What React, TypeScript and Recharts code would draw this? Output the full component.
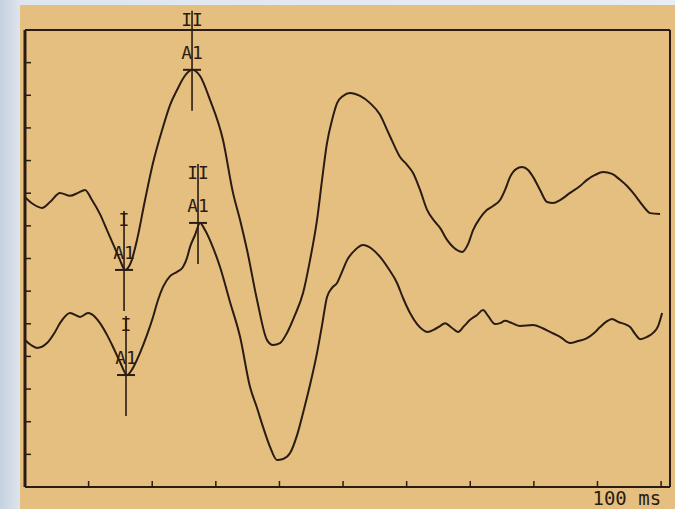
import React from 'react';
import { LineChart, Line, XAxis, YAxis, ReferenceDot, ReferenceLine } from 'recharts';

// time (ms) and amplitude (divisions) of the upper trace
const upperT = [0, 1.26, 2.67, 3.93, 5.5, 7.08, 8.33, 9.43, 10.53, 11.79, 12.89, 13.99, 14.94, 15.72, 16.67, 17.61, 18.87, 20.13, 21.7, 22.8, 23.9, 25.0, 26.26, 27.52, 29.09, 31.13, 32.7, 33.81, 34.91, 36.48, 38.05, 38.99, 40.09, 41.19, 42.45, 43.71, 44.81, 45.91, 46.7, 47.48, 48.27, 49.06, 50.0, 51.1, 52.67, 54.25, 55.82, 56.92, 57.86, 58.96, 60.06, 61.01, 62.11, 63.21, 64.47, 65.25, 66.35, 67.3, 68.71, 69.65, 70.44, 71.54, 72.64, 73.58, 74.69, 75.47, 76.26, 77.2, 78.14, 79.09, 79.87, 80.97, 82.08, 83.02, 84.12, 85.69, 87.26, 88.36, 89.62, 90.88, 92.3, 93.55, 94.65, 95.6, 96.7, 97.8, 98.27, 99.84];
const upperV = [8.88, 8.67, 8.55, 8.73, 9.01, 8.92, 9.01, 9.1, 8.79, 8.36, 7.87, 7.38, 6.95, 6.65, 6.89, 7.57, 8.79, 9.93, 11.03, 11.7, 12.16, 12.56, 12.78, 12.59, 11.86, 10.63, 9.01, 8.18, 7.26, 5.73, 4.5, 4.35, 4.41, 4.72, 5.27, 5.94, 6.95, 8.18, 9.41, 10.54, 11.24, 11.76, 11.98, 12.07, 11.98, 11.76, 11.4, 10.94, 10.54, 10.11, 9.87, 9.62, 9.1, 8.49, 8.12, 7.94, 7.57, 7.35, 7.2, 7.44, 7.87, 8.24, 8.49, 8.61, 8.79, 9.1, 9.5, 9.74, 9.8, 9.71, 9.5, 9.1, 8.73, 8.7, 8.79, 9.01, 9.22, 9.41, 9.56, 9.65, 9.59, 9.41, 9.22, 9.01, 8.73, 8.46, 8.39, 8.36];

// time (ms) and amplitude (divisions) of the lower trace
const lowerT = [0, 0.94, 1.89, 3.46, 4.72, 5.5, 7.08, 8.65, 9.91, 11.01, 11.79, 12.89, 13.84, 14.94, 16.04, 16.98, 18.08, 19.18, 20.13, 20.91, 21.7, 22.8, 23.9, 24.84, 25.47, 25.94, 26.73, 27.52, 28.3, 29.4, 30.66, 32.23, 33.81, 35.38, 36.48, 37.42, 38.52, 39.62, 40.57, 41.67, 42.77, 43.71, 44.81, 45.91, 46.7, 47.48, 48.27, 49.06, 49.84, 50.63, 51.89, 53.14, 54.56, 55.82, 57.08, 58.49, 59.43, 60.53, 61.64, 62.58, 63.21, 64.47, 65.25, 66.04, 67.14, 68.08, 69.03, 69.97, 71.07, 72.01, 72.8, 73.9, 74.69, 75.47, 76.57, 77.83, 79.87, 81.29, 82.55, 84.12, 85.69, 86.95, 88.36, 89.47, 90.41, 91.35, 92.3, 93.24, 94.65, 95.13, 95.91, 96.7, 97.8, 98.74, 99.53, 100.16];
const lowerV = [4.5, 4.35, 4.26, 4.41, 4.75, 5.02, 5.33, 5.21, 5.33, 5.21, 5.02, 4.66, 4.29, 3.83, 3.43, 3.65, 4.11, 4.66, 5.21, 5.73, 6.13, 6.46, 6.59, 6.74, 7.02, 7.35, 7.72, 8.09, 7.87, 7.41, 6.74, 5.67, 4.6, 3.06, 2.42, 1.84, 1.23, 0.83, 0.86, 1.04, 1.59, 2.27, 3.13, 4.11, 4.96, 5.82, 6.1, 6.25, 6.59, 6.95, 7.26, 7.41, 7.29, 7.05, 6.71, 6.25, 5.79, 5.33, 4.99, 4.81, 4.75, 4.84, 4.93, 5.02, 4.87, 4.75, 4.93, 5.12, 5.27, 5.42, 5.24, 4.99, 5.02, 5.09, 5.02, 4.93, 4.96, 4.87, 4.75, 4.6, 4.41, 4.47, 4.56, 4.72, 4.9, 5.06, 5.15, 5.06, 4.96, 4.9, 4.69, 4.53, 4.6, 4.72, 4.93, 5.33];

// peak markers
const markerT = [15.57, 26.26, 15.88, 27.2];
const markerV = [6.65, 12.78, 3.43, 8.09];
const markerWave = ['I', 'II', 'I', 'II'];
const markerName = ['A1', 'A1', 'A1', 'A1'];

const xTicks = [0, 10, 20, 30, 40, 50, 60, 70, 80, 90, 100];
const yTicks = [0, 1, 2, 3, 4, 5, 6, 7, 8, 9, 10, 11, 12, 13, 14];
const xMax = 101.4;
const yMax = 14;
const unitLabel = '100 ms';

const upperData = upperT.map((t, i) => ({ t, v: upperV[i] }));
const lowerData = lowerT.map((t, i) => ({ t, v: lowerV[i] }));

const INK = '#2a1c12';
const TAN = '#e4bf80';
const MONO = '"DejaVu Sans Mono", "Liberation Mono", monospace';

const XTick = (props: any) => {
  const { x, y, payload } = props;
  return (
    <g>
      <line x1={x} x2={x} y1={y} y2={y - 6} stroke={INK} strokeWidth={1.5} />
      {payload.value === 100 ? (
        <text x={x} y={y + 18} textAnchor="end" fontFamily={MONO} fontSize={19} fill={INK}>
          {unitLabel}
        </text>
      ) : null}
    </g>
  );
};

const YTick = (props: any) => {
  const { x, y } = props;
  return <line x1={x} x2={x + 6} y1={y} y2={y} stroke={INK} strokeWidth={1.5} />;
};

const makeMarker = (wave: string, name: string) => (props: any) => {
  const { cx, cy } = props;
  return (
    <g>
      <line x1={cx} x2={cx} y1={cy - 59} y2={cy + 41} stroke={INK} strokeWidth={1.6} />
      <line x1={cx - 9} x2={cx + 9} y1={cy} y2={cy} stroke={INK} strokeWidth={2} />
      <text x={cx} y={cy - 44} textAnchor="middle" fontFamily={MONO} fontSize={18} fill={INK}>
        {wave}
      </text>
      <text x={cx} y={cy - 11} textAnchor="middle" fontFamily={MONO} fontSize={18} fill={INK}>
        {name}
      </text>
    </g>
  );
};

export default function App() {
  return (
    <div
      style={{
        position: 'absolute',
        left: 0,
        top: 0,
        width: 675,
        height: 509,
        background: 'linear-gradient(90deg, #c6d1df 0%, #dde5ee 3%, #e8edf3 100%)',
        overflow: 'hidden',
      }}
    >
      <div style={{ position: 'absolute', left: 20, top: 5, width: 655, height: 504, background: TAN }} />
      <div style={{ position: 'absolute', left: 0, top: 0 }}>
        <LineChart width={675} height={509} margin={{ top: 30, right: 5, bottom: 21, left: 24 }}>
          <XAxis
            type="number"
            dataKey="t"
            domain={[0, xMax]}
            ticks={xTicks}
            interval={0}
            allowDataOverflow
            height={1}
            tickSize={0}
            tickMargin={0}
            tickLine={false}
            axisLine={{ stroke: INK, strokeWidth: 2 }}
            tick={<XTick />}
          />
          <YAxis
            type="number"
            dataKey="v"
            domain={[0, yMax]}
            ticks={yTicks}
            interval={0}
            allowDataOverflow
            width={1}
            tickSize={0}
            tickMargin={0}
            tickLine={false}
            axisLine={{ stroke: INK, strokeWidth: 3 }}
            tick={<YTick />}
          />
          <ReferenceLine y={yMax} stroke={INK} strokeWidth={2} ifOverflow="visible" />
          <ReferenceLine x={xMax} stroke={INK} strokeWidth={2} ifOverflow="visible" />
          <Line
            data={upperData}
            dataKey="v"
            type="monotone"
            stroke={INK}
            strokeWidth={2}
            dot={false}
            isAnimationActive={false}
          />
          <Line
            data={lowerData}
            dataKey="v"
            type="monotone"
            stroke={INK}
            strokeWidth={2}
            dot={false}
            isAnimationActive={false}
          />
          {markerT.map((t, i) => (
            <ReferenceDot
              key={i}
              x={t}
              y={markerV[i]}
              ifOverflow="visible"
              shape={makeMarker(markerWave[i], markerName[i])}
            />
          ))}
        </LineChart>
      </div>
    </div>
  );
}
